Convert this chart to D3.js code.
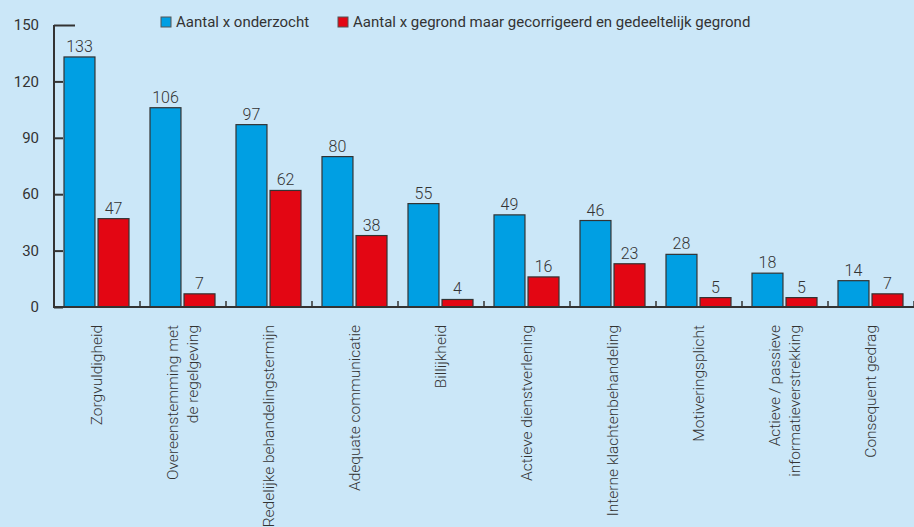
<!DOCTYPE html>
<html>
<head>
<meta charset="utf-8">
<script src="https://cdn.jsdelivr.net/npm/d3@7"></script>
<style>
  body { margin: 0; background: #cbe7f8; }
  text { font-family: Roboto, "Open Sans", sans-serif; fill: #333; }
</style>
</head>
<body>
<div class="chart"></div>
<script>
const categories = [
  ["Zorgvuldigheid"],
  ["Overeenstemming met", "de regelgeving"],
  ["Redelijke behandelingstermijn"],
  ["Adequate communicatie"],
  ["Billijkheid"],
  ["Actieve dienstverlening"],
  ["Interne klachtenbehandeling"],
  ["Motiveringsplicht"],
  ["Actieve\u2009/\u2009passieve", "informatieverstrekking"],
  ["Consequent gedrag"]
]
const onderzocht = [133, 106, 97, 80, 55, 49, 46, 28, 18, 14]
const gegrond = [47, 7, 62, 38, 4, 16, 23, 5, 5, 7]
const seriesNames = ["Aantal x onderzocht", "Aantal x gegrond maar gecorrigeerd en gedeeltelijk gegrond"]
const seriesColors = ["#009fe3", "#e30613"]
const yTicks = [0, 30, 60, 90, 120, 150]

let width = 914
let height = 527

let svg = d3.select(".chart").append("svg")
.attr("width", width)
.attr("height", height)

svg.append("rect")
.attr("width", width)
.attr("height", height)
.attr("fill", "#cbe7f8")

let keys = categories.map((c, i) => i)

let x = d3.scaleBand()
.domain(keys)
.range([54, 914])

let xSub = d3.scaleBand()
.domain([0, 1])
.range([10, 75])
.paddingInner(0.09)

let y = d3.scaleLinear()
.domain([0, 150])
.range([307, 25])

// y axis
let yAxis = svg.append("g")
.attr("transform", "translate(54,0)")
.call(d3.axisRight(y).tickValues(yTicks).tickSize(9).tickFormat(""))

yAxis.select(".domain").remove()
yAxis.selectAll(".tick line")
.attr("stroke", "#333")
.attr("stroke-width", 2)
.attr("x2", d => d === 150 ? 21 : 9)

svg.append("line")
.attr("x1", 54).attr("x2", 54)
.attr("y1", y(150)).attr("y2", y(0))
.attr("stroke", "#333")
.attr("stroke-width", 2)

svg.selectAll(".ylabel")
.data(yTicks)
.enter()
.append("text")
.attr("class", "ylabel")
.attr("x", 39)
.attr("y", d => y(d))
.attr("dy", "0.35em")
.attr("text-anchor", "end")
.style("font-size", "15px")
.text(d => d)

// bars
let groups = svg.selectAll(".group")
.data(keys)
.enter()
.append("g")
.attr("class", "group")
.attr("transform", d => `translate(${x(d)},0)`)

let barData = i => [onderzocht[i], gegrond[i]].map((v, s) => ({ v, s }))

groups.selectAll("rect")
.data(barData)
.enter()
.append("rect")
.attr("x", d => xSub(d.s))
.attr("width", xSub.bandwidth())
.attr("y", d => y(d.v))
.attr("height", d => y(0) - y(d.v))
.attr("fill", d => seriesColors[d.s])
.attr("stroke", "#333")
.attr("stroke-width", 1.2)

groups.selectAll(".value")
.data(barData)
.enter()
.append("text")
.attr("class", "value")
.attr("x", d => xSub(d.s) + xSub.bandwidth() / 2)
.attr("y", d => y(d.v) - 5)
.attr("text-anchor", "middle")
.style("font-size", "16px")
.style("font-weight", 300)
.text(d => d.v)

// x axis
svg.append("line")
.attr("x1", 53).attr("x2", 914)
.attr("y1", y(0)).attr("y2", y(0))
.attr("stroke", "#333")
.attr("stroke-width", 2)

svg.selectAll(".sep")
.data(keys.slice(1).concat([10]))
.enter()
.append("line")
.attr("class", "sep")
.attr("x1", d => 54 + d * x.bandwidth())
.attr("x2", d => 54 + d * x.bandwidth())
.attr("y1", y(0))
.attr("y2", y(0) - 6)
.attr("stroke", "#333")
.attr("stroke-width", 1.5)

// category labels
let cat = svg.selectAll(".cat")
.data(keys)
.enter()
.append("text")
.attr("class", "cat")
.attr("transform", d => `translate(${x(d) + x.bandwidth() / 2},325) rotate(-90)`)
.attr("text-anchor", "end")
.style("font-size", "15.5px")
.style("font-weight", 300)

cat.selectAll("tspan")
.data(d => categories[d].map((line, j, arr) => ({ line, off: (j - (arr.length - 1) / 2) * 20 })))
.enter()
.append("tspan")
.attr("x", 0)
.attr("y", d => d.off)
.attr("dy", "0.35em")
.text(d => d.line)

// legend
let legend = svg.append("g")
.attr("transform", "translate(161,22)")

let legendX = [0, 177]

seriesNames.forEach((name, i) => {
	let g = legend.append("g").attr("transform", `translate(${legendX[i]},0)`)
	g.append("rect")
	.attr("x", 0).attr("y", -5)
	.attr("width", 10).attr("height", 10)
	.attr("fill", seriesColors[i])
	.attr("stroke", "#555")
	.attr("stroke-width", 1)
	g.append("text")
	.attr("x", 15)
	.attr("y", 0)
	.attr("dy", "0.35em")
	.style("font-size", "15px")
	.text(name)
})
</script>
</body>
</html>
